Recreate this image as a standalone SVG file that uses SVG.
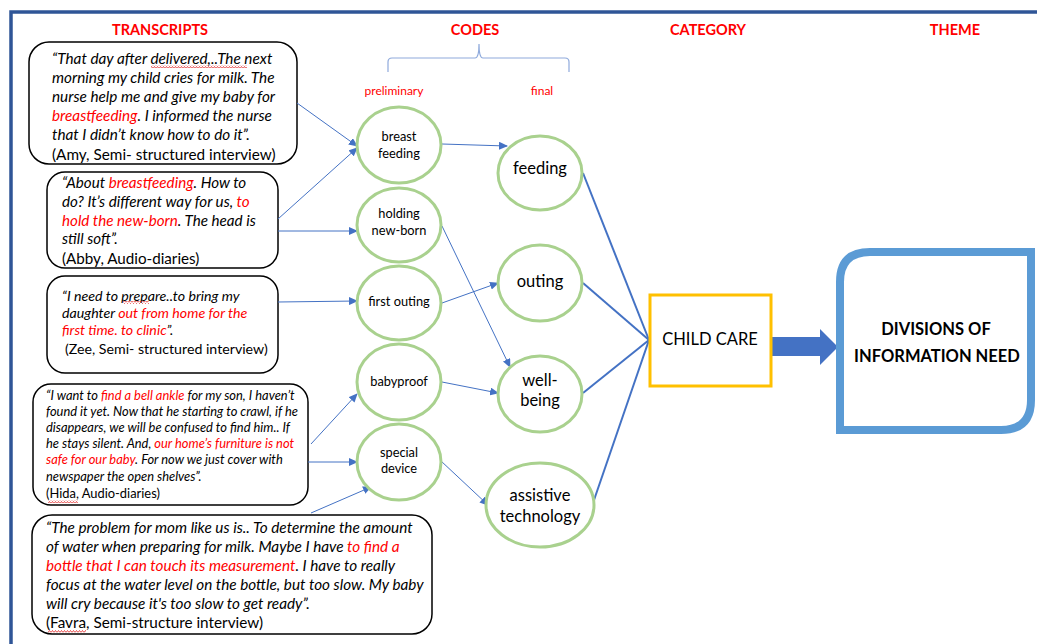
<svg xmlns="http://www.w3.org/2000/svg" width="1037" height="644" viewBox="0 0 1037 644">
<style>
  .hdr { font-family: Lato, "Liberation Sans", sans-serif; font-weight: bold; font-size: 14.5px; fill: #ff0000; text-anchor: middle; }
  .sub { font-family: Lato, "Liberation Sans", sans-serif; font-size: 12px; fill: #ff0000; text-anchor: middle; }
  .box { fill: #ffffff; stroke: #000000; stroke-width: 1.5; }
  .q { font-family: Lato, "Liberation Sans", sans-serif; font-style: italic; fill: #000000; }
  .src { font-family: Lato, "Liberation Sans", sans-serif; fill: #000000; }
  .r { fill: #ff0000; }
  .code { fill: #ffffff; stroke: #a9d18e; stroke-width: 3; }
  .ct { font-family: Lato, "Liberation Sans", sans-serif; font-size: 12.8px; fill: #000000; text-anchor: middle; }
  .ft { font-family: Lato, "Liberation Sans", sans-serif; font-size: 16.5px; fill: #000000; text-anchor: middle; }
  .thin { stroke: #4472c4; stroke-width: 1; fill: none; marker-end: url(#ah); }
  .thick { stroke: #4472c4; stroke-width: 2; fill: none; }
  .wave { fill: url(#wv); }
</style>
<defs>
  <marker id="ah" markerUnits="userSpaceOnUse" markerWidth="9" markerHeight="8" refX="8" refY="4" orient="auto">
    <path d="M0,0 L9,4 L0,8 Z" fill="#4472c4"/>
  </marker>
  <pattern id="wv" patternUnits="userSpaceOnUse" width="3" height="3">
    <path d="M0,2.5 L1.5,0.5 L3,2.5" fill="none" stroke="#e02020" stroke-width="0.8"/>
  </pattern>
</defs>
<rect x="0" y="0" width="1037" height="644" fill="#ffffff"/>
<!-- frame -->
<path d="M11,644 L11,12 L1037,12" fill="none" stroke="#2f5597" stroke-width="3.5"/>

<!-- headers -->
<text class="hdr" x="160" y="35">TRANSCRIPTS</text>
<text class="hdr" x="475" y="35">CODES</text>
<text class="hdr" x="708" y="35">CATEGORY</text>
<text class="hdr" x="955" y="35">THEME</text>
<path d="M388,72 L388,62 Q388,58 392,58 L475,58 Q479,58 479,44 Q479,58 483,58 L565,58 Q569,58 569,62 L569,72" fill="none" stroke="#8faadc" stroke-width="1.2"/>
<text class="sub" x="394" y="95">preliminary</text>
<text class="sub" x="542" y="95">final</text>

<!-- transcripts -->
<g id="t1">
  <rect class="box" x="29" y="42" width="268" height="122" rx="20"/>
  <text class="q" font-size="15.3" x="52" y="64">“That day after delivered,..The next</text>
  <text class="q" font-size="15.3" x="52" y="83">morning my child cries for milk. The</text>
  <text class="q" font-size="15.3" x="52" y="102">nurse help me and give my baby for</text>
  <text class="q" font-size="15.3" x="52" y="121"><tspan class="r">breastfeeding</tspan>. I informed the nurse</text>
  <text class="q" font-size="15.3" x="52" y="140">that I didn’t know how to do it”.</text>
  <text class="src" font-size="15.3" x="52" y="160">(Amy, Semi- structured interview)</text>
  <rect class="wave" x="151" y="65" width="96" height="3"/>
</g>
<g id="t2">
  <rect class="box" x="47" y="172" width="231" height="96" rx="18"/>
  <text class="q" font-size="15.2" x="62" y="188">“About <tspan class="r">breastfeeding</tspan>. How to</text>
  <text class="q" font-size="15.2" x="62" y="207">do? It’s different way for us, <tspan class="r">to</tspan></text>
  <text class="q" font-size="15.2" x="62" y="226"><tspan class="r">hold the new-born</tspan>. The head is</text>
  <text class="q" font-size="15.2" x="62" y="244">still soft”.</text>
  <text class="src" font-size="15.2" x="62" y="264">(Abby, Audio-diaries)</text>
</g>
<g id="t3">
  <rect class="box" x="47" y="276" width="231" height="97" rx="18"/>
  <text class="q" font-size="14.2" x="62" y="301">“I need to prepare..to bring my</text>
  <text class="q" font-size="14.2" x="62" y="318">daughter <tspan class="r">out from home for the</tspan></text>
  <text class="q" font-size="14.2" x="62" y="335"><tspan class="r">first time. to clinic</tspan>”.</text>
  <text class="src" font-size="14.2" x="65" y="354">(Zee, Semi- structured interview)</text>
  <rect class="wave" x="123" y="301" width="26" height="3"/>
</g>
<g id="t4">
  <rect class="box" x="33" y="384" width="275" height="121" rx="18"/>
  <text class="q" font-size="12.9" x="46" y="400">“I want to <tspan class="r">find a bell ankle</tspan> for my son, I haven’t</text>
  <text class="q" font-size="12.9" x="46" y="416">found it yet. Now that he starting to crawl, if he</text>
  <text class="q" font-size="12.9" x="46" y="432">disappears, we will be confused to find him.. If</text>
  <text class="q" font-size="12.9" x="46" y="448">he stays silent. And, <tspan class="r">our home’s furniture is not</tspan></text>
  <text class="q" font-size="12.9" x="46" y="464"><tspan class="r">safe for our baby</tspan>. For now we just cover with</text>
  <text class="q" font-size="12.9" x="46" y="481">newspaper the open shelves”.</text>
  <text class="src" font-size="12.9" x="46" y="498">(Hida, Audio-diaries)</text>
  <rect class="wave" x="48" y="500" width="30" height="3"/>
</g>
<g id="t5">
  <rect class="box" x="32" y="515" width="400" height="119" rx="20"/>
  <text class="q" font-size="15.3" x="46" y="533">“The problem for mom like us is.. To determine the amount</text>
  <text class="q" font-size="15.3" x="46" y="552">of water when preparing for milk. Maybe I have <tspan class="r">to find  a</tspan></text>
  <text class="q" font-size="15.3" x="46" y="571"><tspan class="r">bottle that I can touch its measurement</tspan>.  I have to really</text>
  <text class="q" font-size="15.3" x="46" y="590">focus at the water level on the bottle, but too slow. My baby</text>
  <text class="q" font-size="15.3" x="46" y="609">will cry because it's too slow to get ready”.</text>
  <text class="src" font-size="15.3" x="46" y="628">(Favra, Semi-structure interview)</text>
  <rect class="wave" x="48" y="630" width="38" height="3"/>
</g>

<!-- connectors -->
<g id="connectors">
  <line class="thin" x1="297" y1="103" x2="357" y2="146"/>
  <line class="thin" x1="278" y1="219" x2="357" y2="148"/>
  <line class="thin" x1="278" y1="231" x2="357" y2="231"/>
  <line class="thin" x1="278" y1="302" x2="357" y2="301"/>
  <line class="thin" x1="311" y1="444" x2="357" y2="394"/>
  <line class="thin" x1="308" y1="462" x2="357" y2="462"/>
  <line class="thin" x1="311" y1="513" x2="371" y2="487"/>
  <line class="thin" x1="442" y1="144" x2="507" y2="146"/>
  <line class="thin" x1="442" y1="226" x2="510" y2="367"/>
  <line class="thin" x1="442" y1="303" x2="498" y2="283"/>
  <line class="thin" x1="442" y1="382" x2="498" y2="393"/>
  <line class="thin" x1="441" y1="461" x2="488" y2="505"/>
  <line class="thick" x1="583" y1="173" x2="649" y2="340"/>
  <line class="thick" x1="583" y1="283" x2="649" y2="340"/>
  <line class="thick" x1="583" y1="393" x2="649" y2="340"/>
  <line class="thick" x1="593" y1="503" x2="649" y2="340"/>
  <path d="M772,337 L820,337 L820,329 L838,347 L820,365 L820,356 L772,356 Z" fill="#4472c4"/>
</g>

<!-- preliminary codes -->
<g id="c-breast">
  <ellipse class="code" cx="399" cy="145" rx="42" ry="38"/>
  <text class="ct" x="399" y="141">breast</text>
  <text class="ct" x="399" y="158">feeding</text>
</g>
<g id="c-holding">
  <ellipse class="code" cx="399" cy="225" rx="42" ry="37"/>
  <text class="ct" x="399" y="218">holding</text>
  <text class="ct" x="399" y="235">new-born</text>
</g>
<g id="c-first">
  <ellipse class="code" cx="399" cy="303" rx="42" ry="37"/>
  <text class="ct" x="399" y="306">first outing</text>
</g>
<g id="c-babyproof">
  <ellipse class="code" cx="399" cy="382" rx="42" ry="38"/>
  <text class="ct" x="399" y="386">babyproof</text>
</g>
<g id="c-special">
  <ellipse class="code" cx="399" cy="462" rx="42" ry="38"/>
  <text class="ct" x="399" y="457">special</text>
  <text class="ct" x="399" y="473">device</text>
</g>

<!-- final codes -->
<g id="f-feeding">
  <ellipse class="code" cx="540" cy="173" rx="42" ry="37"/>
  <text class="ft" x="540" y="174">feeding</text>
</g>
<g id="f-outing">
  <ellipse class="code" cx="540" cy="283" rx="42" ry="38"/>
  <text class="ft" x="540" y="287">outing</text>
</g>
<g id="f-wellbeing">
  <ellipse class="code" cx="540" cy="394" rx="42" ry="38"/>
  <text class="ft" x="540" y="386">well-</text>
  <text class="ft" x="540" y="406">being</text>
</g>
<g id="f-assistive">
  <ellipse class="code" cx="540" cy="505" rx="54" ry="42"/>
  <text class="ft" x="540" y="501">assistive</text>
  <text class="ft" x="540" y="522">technology</text>
</g>

<!-- category -->
<g id="category">
  <rect x="650" y="295" width="121" height="91" fill="#ffffff" stroke="#ffc000" stroke-width="3"/>
  <text class="ft" font-size="19" x="710" y="345">CHILD CARE</text>
</g>

<!-- theme -->
<g id="theme">
  <path d="M870,252 L1031,252 L1031,400 Q1031,430 1001,430 L840,430 L840,282 Q840,252 870,252 Z" fill="#ffffff" stroke="#5b9bd5" stroke-width="8"/>
  <text class="ft" font-weight="bold" font-size="17.8" x="936" y="335">DIVISIONS OF</text>
  <text class="ft" font-weight="bold" font-size="17.8" x="937" y="362">INFORMATION NEED</text>
</g>
</svg>
